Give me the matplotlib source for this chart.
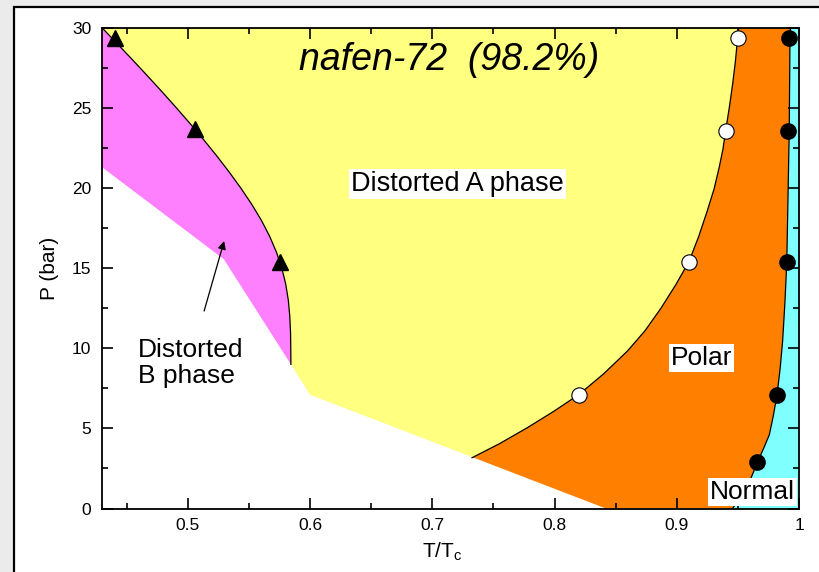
import matplotlib.pyplot as plt
from matplotlib.patches import Rectangle
from matplotlib.ticker import MultipleLocator

plt.rcParams['font.family'] = ['Liberation Sans', 'DejaVu Sans']

# measured transition points (T/Tc, P in bar)
tri_T = [0.440, 0.506, 0.575]
tri_P = [29.4, 23.7, 15.4]
open_T = [0.950, 0.940, 0.910, 0.820]
open_P = [29.4, 23.6, 15.4, 7.1]
full_T = [0.992, 0.991, 0.990, 0.982, 0.966]
full_P = [29.4, 23.6, 15.4, 7.1, 2.9]

# phase boundaries
# B / A boundary
bA_T = [0.4300, 0.4425, 0.4549, 0.4671, 0.4791, 0.4908, 0.5022, 0.5132, 0.5238,
        0.5339, 0.5434, 0.5522, 0.5601, 0.5669, 0.5725, 0.5769, 0.5801, 0.5822,
        0.5834, 0.5840, 0.5842, 0.5843]
bA_P = [30.0, 29.0, 28.0, 27.0, 26.0, 25.0, 24.0, 23.0, 22.0,
        21.0, 20.0, 19.0, 18.0, 17.0, 16.0, 15.0, 14.0, 13.0,
        12.0, 11.0, 10.0, 9.0]
# A / polar boundary
ap_T = [0.7325, 0.755, 0.7776, 0.799, 0.820, 0.840, 0.8596, 0.874, 0.887, 0.899,
        0.910, 0.918, 0.925, 0.9305, 0.9347, 0.9378, 0.940, 0.943, 0.9457, 0.948,
        0.9498, 0.9506]
ap_P = [3.17, 4.05, 5.04, 6.05, 7.12, 8.4, 9.83, 11.1, 12.5, 13.95,
        15.42, 17.0, 18.6, 19.95, 21.3, 22.45, 23.6, 25.05, 26.5, 27.95,
        29.4, 30.0]
# polar / normal boundary
pn_T = [0.9457, 0.9535, 0.9607, 0.9661, 0.971, 0.9757, 0.979, 0.982, 0.9845,
        0.9866, 0.9885, 0.990, 0.991, 0.992, 0.9926, 0.993]
pn_P = [0.0, 0.9, 1.9, 2.9, 3.75, 4.6, 5.8, 7.1, 8.7,
        10.46, 12.9, 15.4, 19.5, 23.6, 29.4, 30.0]
# lower edge of the distorted phases (no data below)
low_T = [0.43, 0.5295, 0.5843, 0.600, 0.842]
low_P = [21.3, 15.56, 9.0, 7.1, 0.0]

Tmin, Tmax = 0.43, 1.0
Pmin, Pmax = 0, 30

fig = plt.figure(figsize=(8.19, 5.72), dpi=100, facecolor='#ebebeb')
frame = Rectangle((13.5 / 819, -0.05), 1.1, 1 - 6.5 / 572 + 0.05,
                  transform=fig.transFigure, facecolor='white',
                  edgecolor='black', lw=1.6, zorder=-10)
fig.patches.append(frame)

ax = fig.add_axes([0.1249, 0.111, 0.8507, 0.840])
ax.set_facecolor('#80ffff')

ax.fill([Tmin] + pn_T + [Tmin], [Pmin] + pn_P + [Pmax], color='#ff8000', lw=0)
ax.fill([Tmin] + ap_T + [Tmin], [Pmin] + ap_P + [Pmax], color='#ffff80', lw=0)
ax.fill([Tmin] + bA_T + [Tmin], [Pmax] + bA_P + [Pmin], color='#ff80ff', lw=0)
ax.fill(low_T + [Tmin], low_P + [Pmin], color='white', lw=0)

for T, P in [(bA_T, bA_P), (ap_T, ap_P), (pn_T, pn_P)]:
    ax.plot(T, P, color='black', lw=0.9)

ax.plot(tri_T, tri_P, '^', color='black', ms=11, clip_on=False)
ax.plot(open_T, open_P, 'o', mfc='white', mec='black', mew=0.8, ms=11, clip_on=False)
ax.plot(full_T, full_P, 'o', color='black', ms=11, clip_on=False)

ax.text(0.7138, 27.4, 'nafen-72  (98.2%)', fontsize=27, style='italic',
        ha='center', va='baseline')

box = dict(facecolor='white', edgecolor='none', pad=1.5)
ax.text(0.7208, 19.82, 'Distorted A phase', fontsize=19.5, ha='center',
        va='baseline', bbox=box)
ax.text(0.9203, 8.96, 'Polar', fontsize=19, ha='center', va='baseline', bbox=box)
ax.text(0.9618, 0.57, 'Normal', fontsize=19, ha='center', va='baseline', bbox=box)
ax.text(0.4593, 7.81, 'Distorted\nB phase', fontsize=19, ha='left',
        va='baseline', linespacing=1.15)

ax.annotate('', xy=(0.5297, 16.7), xytext=(0.5133, 12.33),
            arrowprops=dict(arrowstyle='-|>', color='black', lw=0.9,
                            mutation_scale=12, shrinkA=0, shrinkB=0))

ax.set_xlim(Tmin, Tmax)
ax.set_ylim(Pmin, Pmax)
ax.xaxis.set_major_locator(MultipleLocator(0.1))
ax.xaxis.set_minor_locator(MultipleLocator(0.05))
ax.yaxis.set_major_locator(MultipleLocator(5))
ax.yaxis.set_minor_locator(MultipleLocator(2.5))
ax.set_xticks([0.5, 0.6, 0.7, 0.8, 0.9, 1.0])
ax.set_xticklabels(['0.5', '0.6', '0.7', '0.8', '0.9', '1'])
ax.tick_params(which='both', direction='in', top=True, right=True,
               width=1.2, labelsize=12.5)
ax.tick_params(which='major', length=8)
ax.tick_params(which='minor', length=4)
ax.tick_params(axis='x', pad=7)
ax.tick_params(axis='y', pad=8)
for s in ax.spines.values():
    s.set_linewidth(1.3)

ax.set_xlabel(r'T/T$_\mathregular{c}$', fontsize=15)
ax.xaxis.set_label_coords(0.488, -0.066)
ax.set_ylabel('P (bar)', fontsize=15, labelpad=9)

fig.savefig('out.png', dpi=100, facecolor=fig.get_facecolor())
